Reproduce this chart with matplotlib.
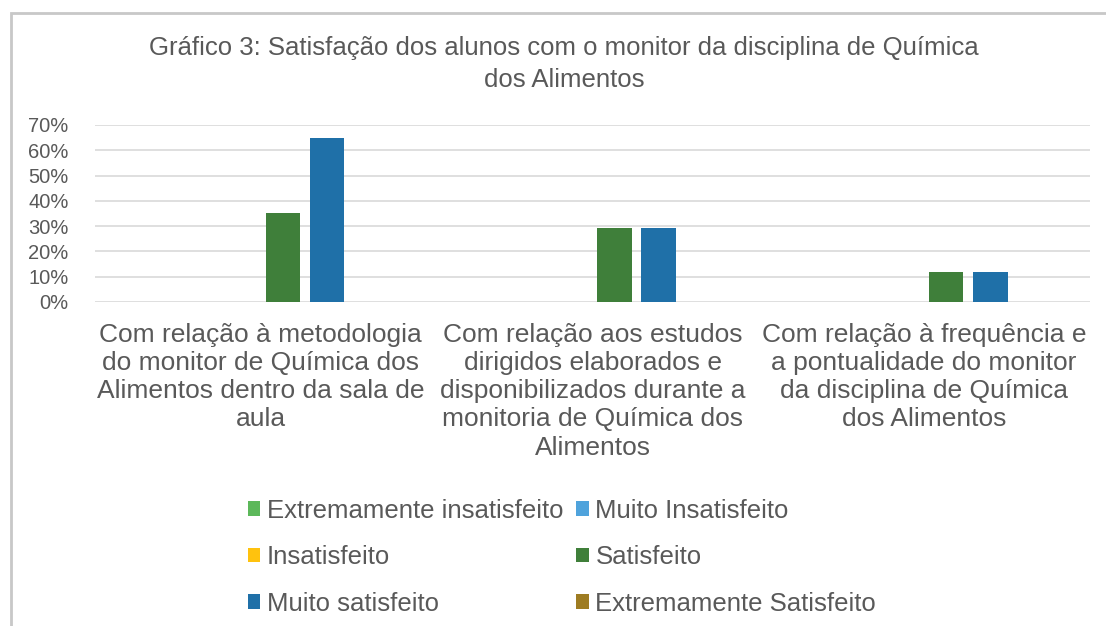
import matplotlib.pyplot as plt
import numpy as np
from matplotlib.patches import Rectangle
from matplotlib.ticker import PercentFormatter

plt.rcParams['font.family'] = ['Liberation Sans', 'DejaVu Sans']

categories = [
    "Com relação à metodologia\ndo monitor de Química dos\nAlimentos dentro da sala de\naula",
    "Com relação aos estudos\ndirigidos elaborados e\ndisponibilizados durante a\nmonitoria de Química dos\nAlimentos",
    "Com relação à frequência e\na pontualidade do monitor\nda disciplina de Química\ndos Alimentos",
]
series = ["Extremamente insatisfeito", "Muito Insatisfeito", "Insatisfeito",
          "Satisfeito", "Muito satisfeito", "Extremamente Satisfeito"]
values = {
    "Extremamente insatisfeito": [0, 0, 0],
    "Muito Insatisfeito": [0, 0, 0],
    "Insatisfeito": [0, 0, 0],
    "Satisfeito": [35.3, 29.4, 11.8],
    "Muito satisfeito": [64.7, 29.4, 11.8],
    "Extremamente Satisfeito": [0, 0, 0],
}
colors = ["#5cb85a", "#4fa3dc", "#ffc20e", "#3f7f3a", "#1f70a8", "#9e7c22"]
yticks = [0, 10, 20, 30, 40, 50, 60, 70]

text_col = "#595959"
fig = plt.figure(figsize=(11.06, 6.26), dpi=100)
ax = fig.add_axes([95 / 1106, 1 - 302 / 626, 995 / 1106, 177 / 626])

# outer chart border (left/top visible in the source crop)
fig.patches.append(Rectangle((11 / 1106, -0.1), 1.2, 1.1 - 13 / 626,
                             transform=fig.transFigure, fill=False,
                             edgecolor="#c8c8c8", linewidth=2))

x = np.arange(len(categories))
w = 0.133
handles = []
for i, s in enumerate(series):
    b = ax.bar(x + (i - 2.5) * w, values[s], width=w * 0.78, color=colors[i], label=s)
    handles.append(b)

ax.set_xlim(-0.5, 2.5)
ax.set_ylim(0, 70)
ax.set_yticks(yticks)
ax.yaxis.set_major_formatter(PercentFormatter(decimals=0))
ax.grid(axis='y', color="#d9d9d9", linewidth=1.2)
ax.set_axisbelow(True)
for sp in ax.spines.values():
    sp.set_visible(False)
ax.tick_params(axis='y', length=0, labelsize=14.5, labelcolor=text_col, pad=19)
ax.set_xticks(x)
ax.set_xticklabels(categories, fontsize=19, color=text_col, linespacing=1.22)
ax.tick_params(axis='x', length=0, pad=15)

fig.text(564 / 1106, 1 - 64 / 626, "Gráfico 3: Satisfação dos alunos com o monitor da disciplina de Química\ndos Alimentos",
         ha='center', va='center', fontsize=18.5, color=text_col, linespacing=1.42)

# legend filled row-wise: reorder for column-major layout
order = [0, 2, 4, 1, 3, 5]
leg = fig.legend([handles[k] for k in order], [series[k] for k in order],
                 ncol=2, loc='upper left', bbox_to_anchor=(227 / 1106, 1 - 478 / 626),
                 frameon=False, fontsize=18.5, handlelength=0.5, handleheight=0.5,
                 handletextpad=0.25, columnspacing=0.5, labelspacing=0.88,
                 labelcolor=text_col, borderpad=0.3)

fig.savefig("out.png", dpi=100, facecolor="white")
